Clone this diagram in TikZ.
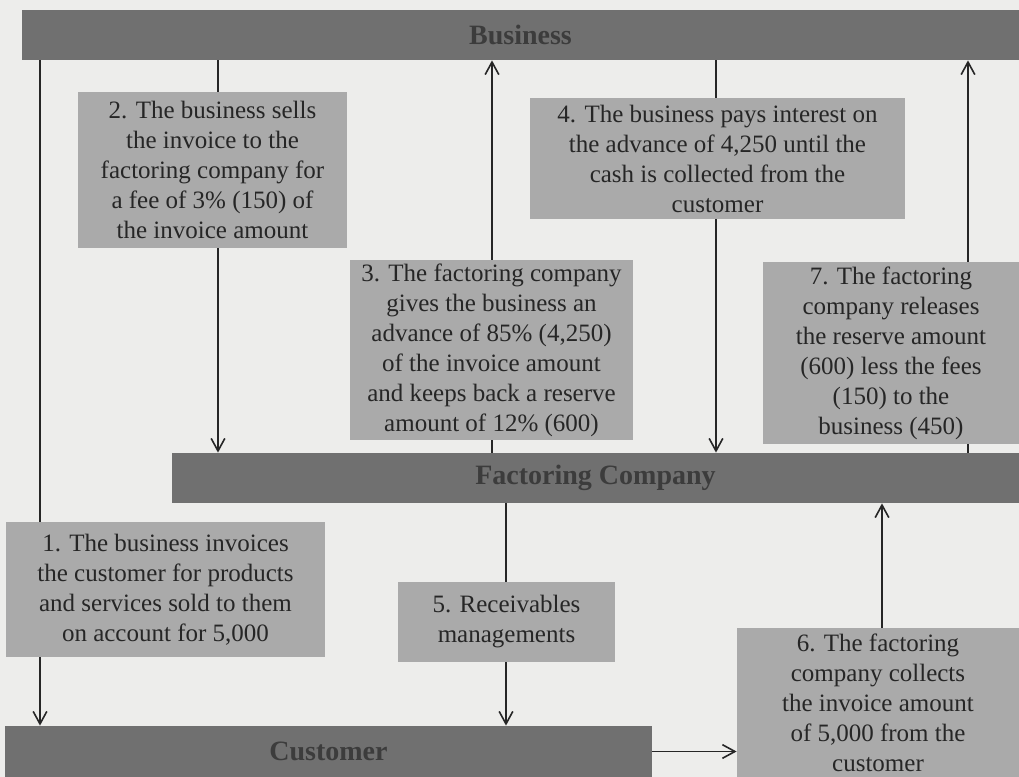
\documentclass[tikz,border=0pt]{standalone}
\usepackage{xcolor}
\usepackage{fontspec}
\setmainfont{Liberation Serif}
\usepackage{tikz}
\usetikzlibrary{arrows.meta}
\definecolor{ScanPaper}{HTML}{EDEDEB}
\definecolor{ScanBar}{HTML}{707070}
\definecolor{ScanBox}{HTML}{AAAAAA}
\definecolor{ScanInk}{HTML}{262626}
\definecolor{ScanBarInk}{HTML}{3C3C3C}

\begin{document}
\begin{tikzpicture}[x=0.5pt,y=-0.5pt,
  bar/.style={fill=ScanBar,inner sep=0pt,minimum height=25pt,text=ScanBarInk,font=\fontsize{14}{16}\selectfont\bfseries},
  note/.style={fill=ScanBox,inner sep=0pt,align=center,text=ScanInk,font=\fontsize{12.5}{15}\selectfont},
  flow/.style={-{Straight Barb[length=2.2mm,width=2.4mm]},draw=ScanInk,line width=0.8pt}
]
\path[use as bounding box,fill=ScanPaper] (0,0) rectangle (1019,777);
% the three parties
\node[bar,minimum width=498.5pt] (business) at (520.5,35) {Business};
\node[bar,minimum width=423.5pt] (factoring) at (595.5,478) {Factoring Company};
\node[bar,minimum width=323.5pt,minimum height=25.5pt] (customer) at (328.5,751.5) {Customer};
% x positions of the long lines
\coordinate (invoiceX) at (40,0);
\coordinate (sellX) at (218,0);
\coordinate (advanceX) at (492,0);
\coordinate (interestX) at (716,0);
\coordinate (releaseX) at (968,0);
\coordinate (manageX) at (506,0);
\coordinate (collectX) at (882,0);
\draw[flow] (business.south -| invoiceX) -- (customer.north -| invoiceX);
\draw[flow] (factoring.north -| advanceX) -- (business.south -| advanceX);
\draw[flow] (business.south -| interestX) -- (factoring.north -| interestX);
\draw[flow] (factoring.north -| releaseX) -- (business.south -| releaseX);
\draw[flow] (factoring.south -| manageX) -- (customer.north -| manageX);
% the steps
\node[note,minimum width=159.5pt,minimum height=67.5pt] (invoice) at (165.5,589.5) {1. The business invoices\\the customer for products\\and services sold to them\\on account for 5,000};
\node[note,minimum width=134.5pt,minimum height=78pt] (sell) at (212.5,170) {2. The business sells\\the invoice to the\\factoring company for\\a fee of 3\% (150) of\\the invoice amount};
\node[note,minimum width=141.5pt,minimum height=90pt] (advance) at (491.5,350) {3. The factoring company\\gives the business an\\advance of 85\% (4,250)\\of the invoice amount\\and keeps back a reserve\\amount of 12\% (600)};
\node[note,minimum width=187.5pt,minimum height=60.5pt] (interest) at (717.5,158.5) {4. The business pays interest on\\the advance of 4,250 until the\\cash is collected from the\\customer};
\node[note,minimum width=108.5pt,minimum height=40pt] (manage) at (506.5,622) {5. Receivables\\managements};
\node[note,minimum width=141pt,minimum height=74.5pt] (collect) at (878,702.5) {6. The factoring\\company collects\\the invoice amount\\of 5,000 from the\\customer};
\node[note,minimum width=128pt,minimum height=91pt] (release) at (891,353) {7. The factoring\\company releases\\the reserve amount\\(600) less the fees\\(150) to the\\business (450)};
\draw[draw=ScanInk,line width=0.8pt] (business.south -| sellX) -- (sell.north -| sellX);
\draw[flow] (sell.south -| sellX) -- (factoring.north -| sellX);
\draw[flow] (collect.north -| collectX) -- (factoring.south -| collectX);
\draw[flow] (customer.east) -- (collect.west |- customer.east);
\end{tikzpicture}
\end{document}
